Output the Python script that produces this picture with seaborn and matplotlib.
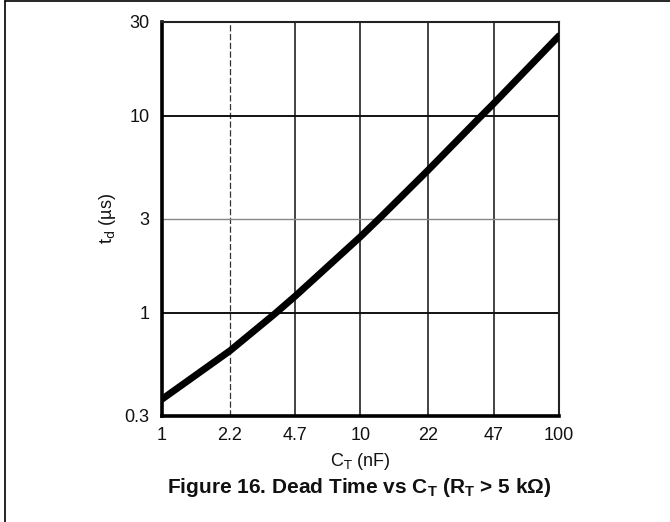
import pandas as pd
import matplotlib
matplotlib.use("Agg")
import matplotlib.pyplot as plt
import seaborn as sns
from matplotlib.lines import Line2D

# ==================================================
# DATA
# ==================================================

ct_nf = [1, 2.2, 3.7, 4.7, 10, 12.7, 22, 39, 47, 100]
td_us = [0.365, 0.643, 0.99, 1.22, 2.44, 3.08, 5.33, 9.6, 11.6, 25.5]

x_ticks = [1, 2.2, 4.7, 10, 22, 47, 100]
x_labels = ["1", "2.2", "4.7", "10", "22", "47", "100"]
y_ticks = [0.3, 1, 3, 10, 30]
y_labels = ["0.3", "1", "3", "10", "30"]

df = pd.DataFrame({"ct": ct_nf, "td": td_us})

# ==================================================
# STYLE
# ==================================================

sns.set_style("white")
plt.rcParams["font.family"] = ["Liberation Sans", "DejaVu Sans"]
plt.rcParams["mathtext.fontset"] = "custom"
plt.rcParams["mathtext.rm"] = "Liberation Sans Narrow"
plt.rcParams["mathtext.it"] = "Liberation Sans:italic"
plt.rcParams["mathtext.bf"] = "Liberation Sans:bold"

narrow = ["Liberation Sans Narrow", "Liberation Sans", "DejaVu Sans"]

fig = plt.figure(figsize=(6.70, 5.22), dpi=100)
ax = fig.add_axes([0.2418, 0.2031, 0.5925, 0.7548])

sns.lineplot(
    data=df,
    x="ct",
    y="td",
    color="black",
    linewidth=5,
    solid_joinstyle="round",
    ax=ax,
    zorder=5
)

ax.set_xscale("log")
ax.set_yscale("log")
ax.set_xlim(1, 100)
ax.set_ylim(0.3, 30)

ax.set_xticks(x_ticks)
ax.set_xticklabels(x_labels, family=narrow, fontsize=13)
ax.set_yticks(y_ticks)
ax.set_yticklabels(y_labels, family=narrow, fontsize=13)
ax.minorticks_off()
ax.tick_params(axis="both", length=0, colors="#111111")
ax.tick_params(axis="x", pad=8)
ax.tick_params(axis="y", pad=9)

# gridlines
for val in x_ticks[1:-1]:
    if val == 2.2:
        ax.axvline(val, color="#333333", lw=0.9, ls=(0, (5, 2)), zorder=1)
    else:
        ax.axvline(val, color="#222222", lw=1.2, zorder=1)

for val in y_ticks[1:-1]:
    if val == 3:
        ax.axhline(val, color="#888888", lw=1.0, zorder=1)
    else:
        ax.axhline(val, color="#111111", lw=1.4, zorder=1)

for side in ["top", "right"]:
    ax.spines[side].set_linewidth(1.5)
    ax.spines[side].set_color("#222222")
for side in ["left", "bottom"]:
    ax.spines[side].set_linewidth(2.6)
    ax.spines[side].set_color("black")

ax.set_xlabel(r"C$_\mathrm{T}$ (nF)", fontsize=13, color="#111111", family=narrow)
ax.set_ylabel(r"t$_\mathrm{d}$ (µs)", fontsize=13, color="#111111", family=narrow)
ax.xaxis.set_label_coords(0.5, -0.09)
ax.yaxis.set_label_coords(-0.112, 0.5)

fig.text(
    0.536, 0.067,
    r"Figure 16. Dead Time vs C$_\mathbf{T}$ (R$_\mathbf{T}$ > 5 kΩ)",
    ha="center", va="center",
    fontsize=15, fontweight="bold", color="#111111"
)

# frame lines (left and top only)
fig.add_artist(Line2D([5 / 670, 5 / 670], [0, 1 - 1 / 522],
                      transform=fig.transFigure, color="black", lw=1.2))
fig.add_artist(Line2D([5 / 670, 1], [1 - 1 / 522, 1 - 1 / 522],
                      transform=fig.transFigure, color="black", lw=1.2))

plt.savefig("out.png", dpi=100)
plt.close()
